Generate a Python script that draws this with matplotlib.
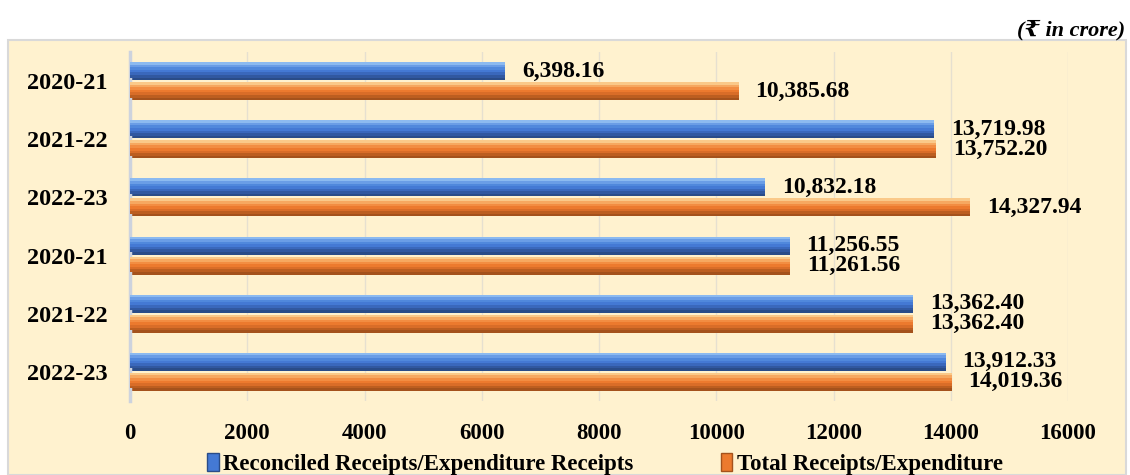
import matplotlib.pyplot as plt
from matplotlib.patches import Rectangle, Patch
import numpy as np

years = ['2020-21', '2021-22', '2022-23', '2020-21', '2021-22', '2022-23']
reconciled = [6398.16, 13719.98, 10832.18, 11256.55, 13362.40, 13912.33]
total = [10385.68, 13752.20, 14327.94, 11261.56, 13362.40, 14019.36]
x_ticks = [0, 2000, 4000, 6000, 8000, 10000, 12000, 14000, 16000]

plt.rcParams['font.family'] = ['Liberation Serif', 'DejaVu Serif', 'DejaVu Sans']
plt.rcParams['font.weight'] = 'bold'

fig = plt.figure(figsize=(11.3, 4.75), dpi=100)
fig.patch.set_facecolor('white')

# beige panel behind the chart
panel = Rectangle((8 / 1130, 0), 1118 / 1130, 435 / 475, transform=fig.transFigure,
                  facecolor='#FFF2CF', edgecolor='#D9D9D9', linewidth=1.5, zorder=-5)
fig.patches.append(panel)

ax = fig.add_axes([130 / 1130, 1 - 401 / 475, 938 / 1130, 349 / 475])
ax.set_facecolor('none')
ax.set_zorder(2)

y = np.arange(len(years))
h = 0.31
off = 0.172

# fake vertical gradient: stack of thinner bars, dark at bottom -> light at top
def shaded_bars(ypos, vals, shades):
    n = len(shades)
    for k, c in enumerate(shades):
        frac = 1 - k / n
        ax.barh(ypos - h * (1 - frac) / 2, vals, height=h * frac, color=c, zorder=2 + k)

blue_shades = ['#2A4C88', '#3158A0', '#3A68BC', '#4479D4', '#5088DC', '#6A9DE6', '#8CBAF0']
orange_shades = ['#A4521C', '#BC5E20', '#D96D28', '#EC7A2E', '#F28D42', '#F6A860', '#FAC989']
shaded_bars(y - off, reconciled, blue_shades)
shaded_bars(y + off, total, orange_shades)

for i in range(len(years)):
    ax.annotate(f'{reconciled[i]:,.2f}', (reconciled[i], y[i] - off),
                xytext=(12, 0), textcoords='offset points', va='center', ha='left',
                fontsize=17, fontweight='bold')
    ax.annotate(f'{total[i]:,.2f}', (total[i], y[i] + off),
                xytext=(12, 0), textcoords='offset points', va='center', ha='left',
                fontsize=17, fontweight='bold')

ax.set_xlim(0, 16000)
ax.set_ylim(len(years) - 0.5, -0.5)
ax.set_xticks(x_ticks)
ax.set_xticklabels([str(t) for t in x_ticks], fontsize=16.5, fontweight='bold')
ax.set_yticks(y)
ax.set_yticklabels(years, fontsize=17.5, fontweight='bold')
ax.tick_params(axis='x', length=0, pad=16)
ax.tick_params(axis='y', length=0, pad=16)

ax.grid(axis='x', color='#E6E0D0', linewidth=1, zorder=0)
for s in ['top', 'right', 'bottom']:
    ax.spines[s].set_visible(False)
ax.spines['left'].set_color('#CDD3DE')
ax.spines['left'].set_linewidth(2.5)

fig.text(1125 / 1130, 1 - 30 / 475, '(₹ in crore)', ha='right', va='center',
         fontsize=16, fontweight='bold', fontstyle='italic')

handles = [Patch(facecolor='#4479D4', edgecolor='#2A4C88'),
           Patch(facecolor='#EC7A2E', edgecolor='#A4521C')]
fig.legend(handles, ['Reconciled Receipts/Expenditure Receipts', 'Total Receipts/Expenditure'],
           loc='center', bbox_to_anchor=(605 / 1130, 1 - 464 / 475), ncol=2, frameon=False,
           prop={'size': 16.5, 'weight': 'bold'}, handlelength=0.5, handleheight=0.8,
           handletextpad=0.2, columnspacing=3.8)

fig.savefig('out.png', dpi=100)
